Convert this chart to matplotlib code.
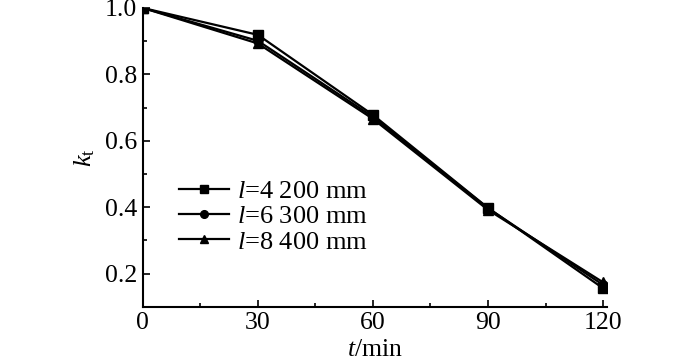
import matplotlib.pyplot as plt
import numpy as np
from matplotlib.ticker import MultipleLocator

plt.rcParams['font.family'] = ['Liberation Serif', 'DejaVu Serif']
plt.rcParams['mathtext.fontset'] = 'custom'
plt.rcParams['mathtext.rm'] = 'Liberation Serif'
plt.rcParams['mathtext.it'] = 'Liberation Serif:italic'

t = [0, 30, 60, 90, 120]
k_4200 = [1.0, 0.919, 0.678, 0.398, 0.156]
k_6300 = [1.0, 0.901, 0.672, 0.397, 0.166]
k_8400 = [1.0, 0.893, 0.666, 0.392, 0.174]
labels = ['$l$=4 200 mm', '$l$=6 300 mm', '$l$=8 400 mm']

fig = plt.figure(figsize=(7, 3.61), dpi=100)
ax = fig.add_axes([0.204, 0.150, 0.663, 0.828])

ax.plot(t, k_4200, '-s', color='black', lw=1.6, ms=6.5, label=labels[0])
ax.plot(t, k_6300, '-o', color='black', lw=1.6, ms=6.5, label=labels[1])
ax.plot(t, k_8400, '-^', color='black', lw=1.6, ms=6.5, label=labels[2])

ax.set_xlim(0, 121)
ax.set_ylim(0.1, 1.0)
ax.set_xticks([0, 30, 60, 90, 120])
ax.set_yticks([0.2, 0.4, 0.6, 0.8, 1.0])
ax.set_yticklabels(['0.2', '0.4', '0.6', '0.8', '1.0'])
ax.xaxis.set_minor_locator(MultipleLocator(15))
ax.yaxis.set_minor_locator(MultipleLocator(0.1))
ax.spines['top'].set_visible(False)
ax.spines['right'].set_visible(False)
for s in ['left', 'bottom']:
    ax.spines[s].set_linewidth(1.5)
ax.tick_params(which='major', direction='in', length=5, width=1.2, labelsize=18.5, pad=4)
ax.tick_params(which='minor', direction='in', length=3, width=1.2)

ax.set_xlabel('$t$/min', fontsize=18.5, labelpad=3)
ax.set_ylabel('$k_{\\mathrm{t}}$', fontsize=19, labelpad=6)

ax.legend(loc='upper left', bbox_to_anchor=(0.05, 0.47), frameon=False, fontsize=19,
          handlelength=1.9, handletextpad=0.3, labelspacing=0.07, borderpad=0,
          markerscale=0.85)

fig.savefig('out.png', dpi=100)
